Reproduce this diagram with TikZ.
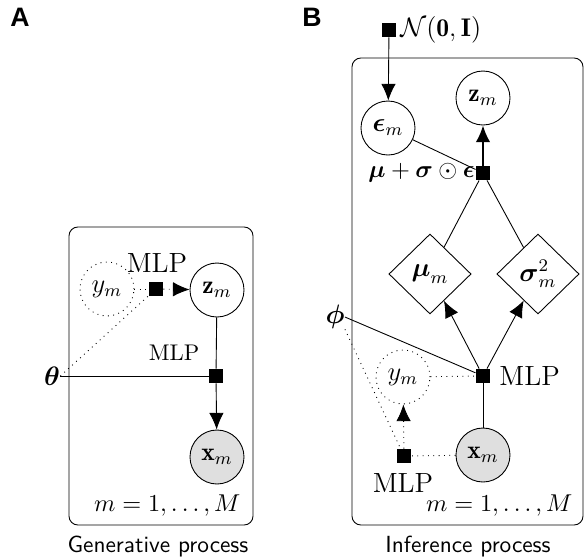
\documentclass[tikz,border=0pt]{standalone}
\usepackage{amsmath}
\usepackage{fontspec}
\newfontfamily\panelfont{Liberation Sans}
\usetikzlibrary{shapes.geometric,arrows.meta}
\begin{document}
\begin{tikzpicture}[x=0.45pt,y=-0.45pt,
  font=\fontsize{11.5}{13.5}\selectfont,
  var/.style={circle,draw,minimum size=24.3pt,inner sep=0pt},
  obs/.style={var,fill=gray!25},
  lat/.style={var,dotted},
  fac/.style={rectangle,fill=black,minimum size=6.3pt,inner sep=0pt},
  det/.style={diamond,draw,minimum width=37pt,minimum height=36pt,inner sep=0pt},
  plate/.style={draw,rounded corners=4pt},
  arr/.style={-{Latex[length=7.5pt,width=6.5pt]}},
  lbl/.style={inner sep=0pt},
  midlbl/.style={lbl,font=\fontsize{10.5}{12}\selectfont},
  smallmlp/.style={lbl,font=\fontsize{10.2}{12}\selectfont},
  bigmlp/.style={lbl,font=\fontsize{12.5}{14}\selectfont},
  captext/.style={font=\sffamily\fontsize{10.5}{12}\selectfont}
]
\useasboundingbox (0,0) rectangle (584,560);

% panel labels
\node[font=\panelfont\bfseries\large] (A) at (20,17) {A};
\node[font=\panelfont\bfseries\large] (B) at (312,17) {B};

% ---------------- Panel A ----------------
\draw[plate] (69,227) rectangle (253,525);
\node[lat] (yA) at (107,289) {$y_m$};
\node[fac] (fA1) at (156,289) {};
\node[bigmlp] (mlpA1) at (157,263) {MLP};
\node[var] (zA) at (217,290) {$\mathbf{z}_m$};
\node[lbl] (thA) at (52,376) {$\boldsymbol{\theta}$};
\node[fac] (fA2) at (216,376) {};
\node[smallmlp] (mlpA2) at (174,353) {MLP};
\node[obs] (xA) at (217,457) {$\mathbf{x}_m$};
\node[midlbl,anchor=east] (plA) at (241,506) {$m=1,\ldots,M$};
\node[captext] (capA) at (158,547) {Generative process};

\draw[dotted] (thA.east) -- (fA1);
\draw (thA.east) -- (fA2);
\draw[dotted] (yA) -- (fA1);
\draw[dotted,arr] (fA1) -- (zA);
\draw (zA) -- (fA2);
\draw[arr] (fA2) -- (xA);

% ---------------- Panel B ----------------
\draw[plate] (352,58) rectangle (583,525);
\node[fac] (fN) at (389,30) {};
\node[lbl,anchor=west] (N) at (400,30) {$\mathcal{N}(\mathbf{0},\mathbf{I})$};
\node[var] (eps) at (388,128) {$\boldsymbol{\epsilon}_m$};
\node[var] (zB) at (483,98) {$\mathbf{z}_m$};
\node[fac] (fmu) at (483,173) {};
\node[midlbl,anchor=east] (rep) at (475,173) {$\boldsymbol{\mu}+\boldsymbol{\sigma}\odot\boldsymbol{\epsilon}$};
\node[det] (mu) at (430,274) {$\boldsymbol{\mu}_m$};
\node[det] (sig) at (538,274) {$\boldsymbol{\sigma}^2_m$};
\node[lbl] (phi) at (335,317) {$\boldsymbol{\phi}$};
\node[fac] (fB1) at (483,376) {};
\node[bigmlp,anchor=west] (mlpB1) at (499,376) {MLP};
\node[lat] (yB) at (403,377) {$y_m$};
\node[obs] (xB) at (483,455) {$\mathbf{x}_m$};
\node[fac] (fB2) at (404,456) {};
\node[bigmlp] (mlpB2) at (403,483) {MLP};
\node[midlbl,anchor=east] (plB) at (573,506) {$m=1,\ldots,M$};
\node[captext] (capB) at (468,547) {Inference process};

\draw[arr] (fN) -- (eps);
\draw (eps) -- (fmu);
\draw[arr,thick] (fmu) -- (zB);
\draw (mu) -- (fmu);
\draw (sig) -- (fmu);
\draw[arr] (fB1) -- (mu);
\draw[arr] (fB1) -- (sig);
\draw (phi.east) -- (fB1);
\draw[dotted] (phi.south east) -- (fB2);
\draw[dotted] (yB) -- (fB1);
\draw (xB) -- (fB1);
\draw[dotted] (xB) -- (fB2);
\draw[dotted,arr] (fB2) -- (yB);
\end{tikzpicture}
\end{document}
